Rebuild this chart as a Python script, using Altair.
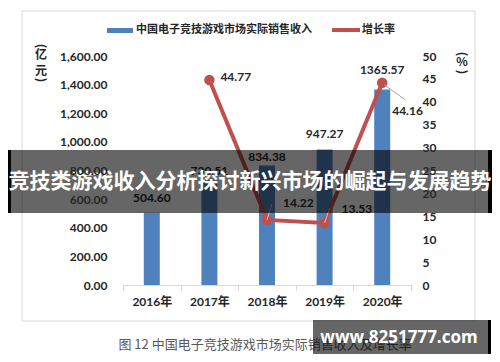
import altair as alt
import pandas as pd

# ---- data ----
years = ["2016年", "2017年", "2018年", "2019年", "2020年"]
revenue = [504.60, 730.51, 834.38, 947.27, 1365.57]
growth_years = ["2017年", "2018年", "2019年", "2020年"]
growth = [44.77, 14.22, 13.53, 44.16]
left_ticks = [0, 200, 400, 600, 800, 1000, 1200, 1400, 1600]
right_ticks = [0, 5, 10, 15, 20, 25, 30, 35, 40, 45, 50]
legend_labels = ["中国电子竞技游戏市场实际销售收入", "增长率"]
left_title = ["(", "亿", "元", ")"]
right_title = ["(", "%", ")"]
banner_text = "竞技类游戏收入分析探讨新兴市场的崛起与发展趋势"
caption_text = "图 12 中国电子竞技游戏市场实际销售收入及增长率"
watermark_text = "www.8251777.com"

bar_df = pd.DataFrame({"year": years, "revenue": revenue,
                       "label": [f"{v:.2f}" for v in revenue]})
line_df = pd.DataFrame({"year": growth_years, "growth": growth,
                        "label": [f"{v:.2f}" for v in growth]})
one = pd.DataFrame({"k": [0]})

# ---- styles ----
FONT = "Lato, 'Noto Sans CJK SC', sans-serif"
CJK = "'Noto Sans CJK SC', sans-serif"
BLUE = "#4F81BD"
RED = "#C0504D"
TXT = "#262626"

bar_label_dy = {"2016年": -15, "2017年": -9, "2018年": -9, "2019年": -15, "2020年": -20}
line_label_off = {"2017年": (11, -3), "2018年": (16, -17), "2019年": (17, -14), "2020年": (10, 28)}

x_axis = alt.Axis(title=None, labelAngle=0, domainColor="#d9d9d9", tickColor="#d9d9d9",
                  tickSize=5, tickBand="extent", labelPadding=6, labelFont=FONT,
                  labelFontWeight="bold", labelFontSize=12, labelColor=TXT, grid=False,
                  zindex=1)
x_scale = alt.Scale(domain=years, paddingInner=0, paddingOuter=0)

left_axis = alt.Axis(orient="left", values=left_ticks, format=",.2f", title=None,
                     domain=False, ticks=False, grid=False, labelPadding=16, zindex=1,
                     labelFont=FONT, labelFontWeight="bold", labelFontSize=12, labelColor=TXT)
right_axis = alt.Axis(orient="right", values=right_ticks, title=None, domain=False,
                      ticks=False, grid=False, labelPadding=11, labelAlign="left", zindex=1,
                      labelFont=FONT, labelFontWeight="bold", labelFontSize=12, labelColor=TXT)
yl_scale = alt.Scale(domain=[0, 1600], nice=False)
yr_scale = alt.Scale(domain=[0, 50], nice=False)

X = alt.X("year:N", scale=x_scale, axis=x_axis)
YL = alt.Y("revenue:Q", scale=yl_scale, axis=left_axis)
YR = alt.Y("growth:Q", scale=yr_scale, axis=right_axis)

def box(x1, x2, y1, y2, **kw):
    return alt.Chart(one).mark_rect(**kw).encode(
        x=alt.value(x1), x2=alt.value(x2), y=alt.value(y1), y2=alt.value(y2))

def label(text, x, y, **kw):
    return alt.Chart(one).mark_text(**kw).encode(
        x=alt.value(x), y=alt.value(y), text=alt.value(text))

# ---- bar group (left axis) ----
frame = box(-101, 352, -45, 265, fill="transparent", stroke="#d9d9d9", strokeWidth=1)
bars = alt.Chart(bar_df).mark_bar(size=16, color=BLUE).encode(x=X, y=YL)
bar_texts = [
    alt.Chart(bar_df).transform_filter(alt.datum.year == y)
    .mark_text(dy=bar_label_dy[y], font=FONT, fontWeight="bold", fontSize=12, color=TXT)
    .encode(x=X, y=YL, text="label:N")
    for y in years
]
bar_group = alt.layer(frame, bars, *bar_texts)

# ---- line group (right axis) ----
line = alt.Chart(line_df).mark_line(color=RED, strokeWidth=4).encode(x=X, y=YR)
pts = alt.Chart(line_df).mark_point(filled=True, opacity=1, size=110, color=RED).encode(x=X, y=YR)
leader_specs = {"2018年": (0, 0, 5, -16, "#c8c8c8"),
                "2019年": (0, 0, 5, -15, "#c8c8c8"),
                "2020年": (2, 2, 23, 17, "#a6a6a6")}
leaders = [
    alt.Chart(line_df).transform_filter(alt.datum.year == y)
    .mark_rule(color=c, strokeWidth=1, xOffset=xo, yOffset=yo, x2Offset=x2o, y2Offset=y2o)
    .encode(x=X, y=YR, x2="year:N", y2="growth:Q")
    for y, (xo, yo, x2o, y2o, c) in leader_specs.items()
]
line_texts = [
    alt.Chart(line_df).transform_filter(alt.datum.year == y)
    .mark_text(dx=line_label_off[y][0], dy=line_label_off[y][1], align="left",
               baseline="middle", font=FONT, fontWeight="bold", fontSize=12, color=TXT)
    .encode(x=X, y=YR, text="label:N")
    for y in growth_years
]

# legend
leg_blue = box(-16, 10, -28, -23, fill=BLUE)
leg_blue_t = label(legend_labels[0], 13, -26, align="left", baseline="middle", font=CJK,
                   fontWeight="bold", fontSize=11, color=TXT)
leg_red = alt.Chart(one).mark_rule(color=RED, strokeWidth=4).encode(
    x=alt.value(209), x2=alt.value(237), y=alt.value(-26))
leg_dot = alt.Chart(one).mark_point(filled=True, opacity=1, size=20, color=RED).encode(
    x=alt.value(223), y=alt.value(-26))
leg_red_t = label(legend_labels[1], 239, -26, align="left", baseline="middle", font=CJK,
                  fontWeight="bold", fontSize=11, color=TXT)

# axis titles (stacked vertically, parentheses turned)
def stacked(chars, x, ys):
    out = []
    for ch, yy in zip(chars, ys):
        ang = 90 if ch in "()" else 0
        out.append(label(ch, x, yy, align="center", baseline="middle", font=CJK,
                         fontWeight="bold", fontSize=12, angle=ang, color=TXT))
    return out

lt = stacked(left_title, -82, [-10, -1, 15, 24])
rt = stacked(right_title, 339, [-2, 6, 16])

# caption, banner, watermark
caption = label(caption_text, 142, 289, align="center", baseline="middle", font=CJK,
                fontSize=13, color="#595959")
banner = box(-115, 369, 94, 157, fill="black", opacity=0.6)
banner_l = box(-115, -112, 94, 157, fill="black")
banner_r = box(365, 369, 94, 157, fill="black")
banner_t = label(banner_text, 127, 126, align="center", baseline="middle", font=CJK,
                 fontWeight="bold", fontSize=21, color="white")
wm = box(190, 365, 264, 298, fill="black", opacity=0.6)
wm_r = box(365, 368, 264, 298, fill="black")
wm_t = label(watermark_text, 276, 282, align="center", baseline="middle",
             font="'Open Sans', sans-serif", fontWeight="bold", fontSize=17, color="white")

line_group = alt.layer(line, pts, *leaders, *line_texts, leg_blue, leg_blue_t, leg_red,
                       leg_dot, leg_red_t, *lt, *rt, caption, banner, banner_l, banner_r,
                       banner_t, wm, wm_r, wm_t)

chart = (
    alt.layer(bar_group, line_group)
    .resolve_scale(y="independent")
    .properties(width=288, height=229,
                padding={"left": 115, "top": 48, "right": 81, "bottom": 69},
                autosize=alt.AutoSizeParams(type="none"),
                background="white")
    .configure_view(stroke="transparent")
)

chart.save("out.html", embed_options={"renderer": "svg", "actions": False})
